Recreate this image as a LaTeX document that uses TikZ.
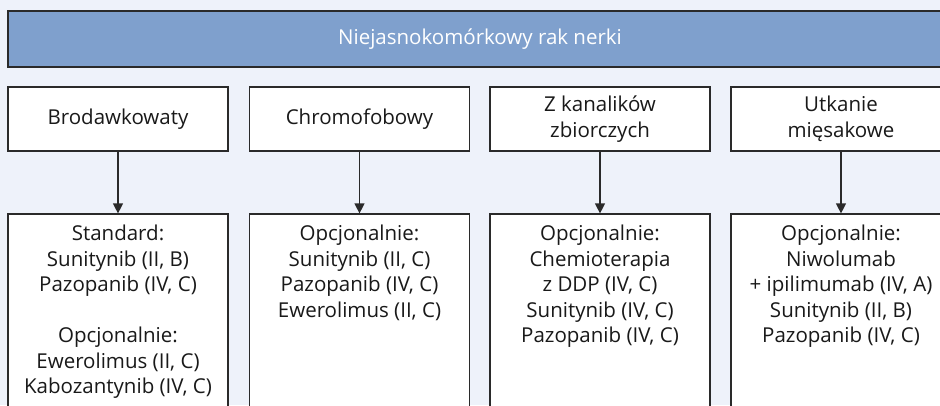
\documentclass[tikz,border=0pt]{standalone}
\usepackage{fontspec}
\setmainfont{Open Sans}
\usepackage{xcolor}
\usetikzlibrary{arrows.meta}

\definecolor{pagebg}{HTML}{EEF2FA}
\definecolor{barblue}{HTML}{7FA0CD}
\definecolor{edgegray}{HTML}{2A2A2A}

\tikzset{
    typebox/.style={draw=edgegray, line width=1.2pt, fill=white, minimum width=220pt, minimum height=64pt, align=center, inner sep=0pt},
    drugbox/.style={draw=edgegray, line width=1.2pt, fill=white, minimum width=220pt, minimum height=206pt, inner sep=0pt},
    arr/.style={draw=edgegray, line width=1.2pt, -{Triangle[width=10pt, length=10pt]}}
}

\newcommand{\drugtext}[1]{\parbox[c][206pt][t]{218pt}{\centering\vspace{11pt}#1}}

\begin{document}
\begin{tikzpicture}[x=1pt, y=-1pt, font=\fontsize{20.5}{25.5}\selectfont, text=black!90]
    \fill[pagebg] (0, 0) rectangle (940, 405);
    \clip (0, 0) rectangle (940, 405);

    \node[draw=edgegray, line width=1.5pt, fill=barblue, minimum width=944pt, minimum height=56pt, text=white] at (480, 39) (title) {Niejasnokomórkowy rak nerki};

    \node[typebox] at (118, 119) (brod) {Brodawkowaty};
    \node[typebox] at (359.5, 119) (chrom) {Chromofobowy};
    \node[typebox] at (600, 119) (kanal) {Z kanalików\\zbiorczych};
    \node[typebox] at (841, 119) (miesak) {Utkanie\\mięsakowe};

    \node[drugbox] at (118, 317) (brodleki) {\drugtext{Standard:\\Sunitynib (II, B)\\Pazopanib (IV, C)\\[25.5pt]Opcjonalnie:\\Ewerolimus (II, C)\\Kabozantynib (IV, C)}};
    \node[drugbox] at (359.5, 317) (chromleki) {\drugtext{Opcjonalnie:\\Sunitynib (II, C)\\Pazopanib (IV, C)\\Ewerolimus (II, C)}};
    \node[drugbox] at (600, 317) (kanalleki) {\drugtext{Opcjonalnie:\\Chemioterapia\\z DDP (IV, C)\\Sunitynib (IV, C)\\Pazopanib (IV, C)}};
    \node[drugbox] at (841, 317) (miesakleki) {\drugtext{Opcjonalnie:\\Niwolumab\\+ ipilimumab (IV, A)\\Sunitynib (II, B)\\Pazopanib (IV, C)}};

    \draw[arr] (brod) -- (brodleki);
    \draw[arr] (chrom) -- (chromleki);
    \draw[arr] (kanal) -- (kanalleki);
    \draw[arr] (miesak) -- (miesakleki);
\end{tikzpicture}
\end{document}
